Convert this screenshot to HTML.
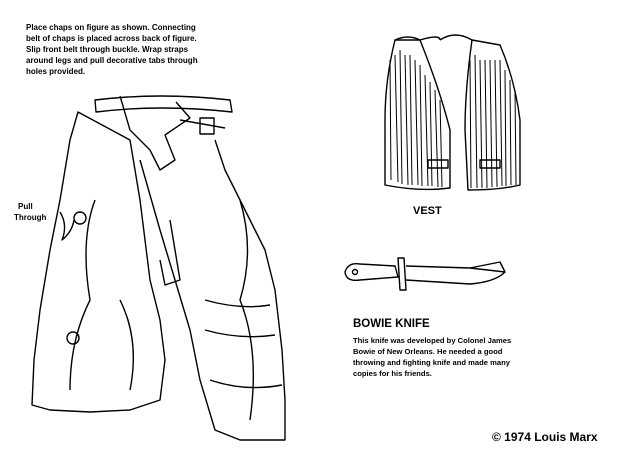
<!DOCTYPE html>
<html><head><style>
body{margin:0;background:#fff;width:620px;height:460px;overflow:hidden}
svg{display:block}
text{font-family:"Liberation Sans",sans-serif;fill:#000}
</style></head><body>
<svg width="620" height="460" viewBox="0 0 620 460">
<g font-size="8" font-weight="bold">
<text x="26" y="30">Place chaps on figure as shown. Connecting</text>
<text x="26" y="41">belt of chaps is placed across back of figure.</text>
<text x="26" y="52">Slip front belt through buckle. Wrap straps</text>
<text x="26" y="63">around legs and pull decorative tabs through</text>
<text x="26" y="74">holes provided.</text>
<text x="18" y="209">Pull</text>
<text x="14" y="220">Through</text>
</g>
<g fill="none" stroke="#000" stroke-width="1.4" stroke-linejoin="round">
<path d="M95 100 Q160 92 230 100 L232 112 Q160 104 96 112 Z"/>
<path d="M120 96 L130 130 L150 150 L160 170 L175 160 L165 135 L190 118 L176 102"/>
<rect x="200" y="118" width="14" height="16"/>
<path d="M180 120 L225 128"/>
<path d="M78 112 L70 140 L60 200 L50 250 L40 310 L34 360 L32 405 L50 410 L90 412 L130 410 L160 400 L165 360 L160 320 L150 280 L140 200 L130 140 Z"/>
<path d="M95 200 Q80 240 90 300 Q70 340 70 390"/>
<path d="M120 300 Q140 340 130 390"/>
<circle cx="80" cy="218" r="6"/><circle cx="73" cy="338" r="6"/>
<path d="M60 212 Q68 225 62 240 Q72 232 74 220"/>
<path d="M140 160 L160 230 L175 280 L190 330 L200 380 L215 430 L240 440 L285 440 L285 400 L282 350 L275 290 L265 250 L240 200 L225 170 L215 140"/>
<path d="M170 220 L180 280 L165 285 L160 260"/>
<path d="M205 300 Q240 310 270 305 M205 330 Q240 340 275 335 M210 380 Q245 392 282 385"/>
<path d="M240 200 Q255 250 240 300 Q260 350 250 420"/>
<path d="M395 40 Q385 80 385 120 L385 185 Q420 192 450 188 L450 130 Q440 90 420 40 Z"/>
<path d="M395 40 Q408 34 420 40"/>
<path d="M472 40 Q465 90 465 130 L468 190 Q500 190 520 185 L520 120 Q515 80 500 45 Z"/>
<path d="M440 40 Q455 30 472 40 M420 40 Q440 34 440 40"/>
<rect x="428" y="160" width="20" height="8"/><rect x="480" y="160" width="20" height="8"/>
<path d="M345 272 Q348 262 360 264 L395 266 L398 277 L360 280 Q346 282 345 272 Z"/>
<circle cx="355" cy="272" r="2.5"/>
<path d="M398 258 L404 258 L406 290 L400 290 Z"/>
<path d="M406 266 L470 268 L505 272 Q495 282 470 284 L406 280"/>
<path d="M470 268 L500 262 L505 272"/>
</g>
<g fill="none" stroke="#000" stroke-width="1">
<path d="M390 60 L391 180 M395 55 L398 182 M400 50 L402 184 M405 55 L408 185 M410 55 L412 185 M415 60 L418 185 M420 65 L422 186 M425 75 L428 186 M430 82 L432 186 M435 90 L438 187 M440 100 L442 187 M470 60 L471 188 M475 55 L477 188 M480 60 L482 188 M485 60 L487 188 M490 60 L492 187 M495 60 L497 187 M500 60 L502 186 M505 70 L506 186 M510 80 L511 185 M515 90 L516 185"/>
</g>
<text x="413" y="214" font-size="11" font-weight="bold">VEST</text>
<text x="353" y="327" font-size="11.5" font-weight="bold">BOWIE KNIFE</text>
<g font-size="7.6" font-weight="bold">
<text x="353" y="343">This knife was developed by Colonel James</text>
<text x="353" y="354">Bowie of New Orleans. He needed a good</text>
<text x="353" y="365">throwing and fighting knife and made many</text>
<text x="353" y="376">copies for his friends.</text>
</g>
<text x="492" y="441" font-size="12" font-weight="bold">© 1974 Louis Marx</text>
</svg>
</body></html>
